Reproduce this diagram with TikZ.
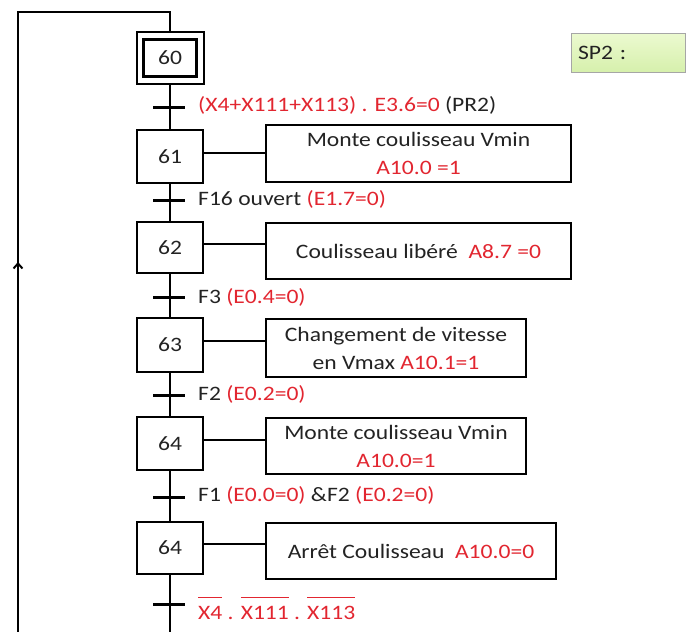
\documentclass[tikz,border=0pt]{standalone}
\usepackage{fontspec}
\setmainfont{Carlito}[FakeStretch=1.15]
\usetikzlibrary{shadows,arrows.meta}

\definecolor{rouge}{RGB}{226,38,48}
\definecolor{encre}{RGB}{35,35,35}
\definecolor{vertclair}{RGB}{236,250,208}
\definecolor{vertfonce}{RGB}{214,240,172}
\newcommand{\rg}[1]{\textcolor{rouge}{#1}}
\newcommand{\barre}[1]{$\overline{\hbox{\rule{0pt}{0.98em}#1}}$}

\tikzset{
  etape/.style={draw, fill=white, line width=2.5pt, minimum width=66pt, minimum height=52pt, inner sep=0pt},
  action/.style={draw, fill=white, line width=2.5pt, align=center, inner sep=0pt,
    drop shadow={shadow xshift=1.3pt, shadow yshift=-1.3pt, opacity=1, fill=black}},
  lien/.style={line width=2.5pt},
  recep/.style={line width=3pt},
  cnx/.style={line width=2pt, transform canvas={yshift=4pt}},
  cond/.style={anchor=west, inner sep=0pt, text=encre}
}

\begin{document}
\begin{tikzpicture}[x=1pt, y=-1pt, font=\fontsize{20.5}{28}\selectfont, text=encre]
  \useasboundingbox (0,0) rectangle (689,632);

  \node[etape, line width=2pt, minimum width=67pt, minimum height=52pt] (e60) at (170,58) {};
  \node[etape, line width=3pt, minimum width=53pt, minimum height=37pt] (e60i) at (170,58) {60};
  \node[etape, minimum height=53pt] (e61) at (170,156.5) {61};
  \node[etape, minimum height=51pt] (e62) at (170,247.5) {62};
  \node[etape, minimum height=54pt] (e63) at (170,345) {63};
  \node[etape, minimum height=53pt] (e64) at (170,443.5) {64};
  \node[etape] (e65) at (170,548) {64};

  \node[action, minimum width=305pt, minimum height=57pt] (a61) at (418.5,153.5) {Monte coulisseau Vmin\\ \rg{A10.0 =1}};
  \node[action, minimum width=305pt, minimum height=56pt] (a62) at (418.5,251) {Coulisseau libéré~ \rg{A8.7 =0}};
  \node[action, minimum width=260pt, minimum height=58pt] (a63) at (396,348) {Changement de vitesse\\ en Vmax \rg{A10.1=1}};
  \node[action, minimum width=260pt, minimum height=56pt] (a64) at (396,446) {Monte coulisseau Vmin\\ \rg{A10.0=1}};
  \node[action, minimum width=290pt, minimum height=56pt] (a65) at (411,551) {Arrêt Coulisseau~ \rg{A10.0=0}};

  \node[draw=black!35, line width=1pt, top color=vertclair, bottom color=vertfonce, minimum width=114pt,
    minimum height=39pt, text width=100pt, align=left, inner xsep=7pt] (sp2) at (628,52.5) {SP2 :};

  \draw[cnx] (e61.east) -- (e61.east -| a61.west);
  \draw[cnx] (e62.east) -- (e62.east -| a62.west);
  \draw[cnx] (e63.east) -- (e63.east -| a63.west);
  \draw[cnx] (e64.east) -- (e64.east -| a64.west);
  \draw[cnx] (e65.east) -- (e65.east -| a65.west);

  \coordinate (hg) at (18,12);
  \coordinate (hd) at (170,12);
  \coordinate (bg) at (18,632);
  \coordinate (bd) at (170,632);
  \coordinate (fl) at (18,262);
  \draw[lien, line width=2pt] (bg) -- (hg) -- (hd) -- (e60.north);
  \draw[lien, line width=2pt, -{Straight Barb[length=5pt,width=9pt]}] (bg) -- (fl);

  \draw[lien] (e60.south) -- (e61.north);
  \draw[lien] (e61.south) -- (e62.north);
  \draw[lien] (e62.south) -- (e63.north);
  \draw[lien] (e63.south) -- (e64.north);
  \draw[lien] (e64.south) -- (e65.north);
  \draw[lien] (e65.south) -- (bd);

  \coordinate (t1) at (169,107);
  \coordinate (t2) at (169,200);
  \coordinate (t3) at (169,297);
  \coordinate (t4) at (169,395);
  \coordinate (t5) at (169,497);
  \coordinate (t6) at (169,604);
  \foreach \t in {t1,t2,t3,t4,t5,t6}
    \draw[recep] ([xshift=-16pt]\t) -- ([xshift=16pt]\t);

  \node[cond] (c1) at (198,105) {\rg{(X4+X111+X113) . E3.6=0} (PR2)};
  \node[cond] (c2) at (198,199) {F16 ouvert \rg{(E1.7=0)}};
  \node[cond] (c3) at (198,297) {F3 \rg{(E0.4=0)}};
  \node[cond] (c4) at (198,394) {F2 \rg{(E0.2=0)}};
  \node[cond] (c5) at (198,495) {F1 \rg{(E0.0=0)} \&F2 \rg{(E0.2=0)}};
  \node[cond, anchor=base west] (c6) at (198,619) {\rg{\barre{X4} . \barre{X111} . \barre{X113}}};
\end{tikzpicture}
\end{document}
